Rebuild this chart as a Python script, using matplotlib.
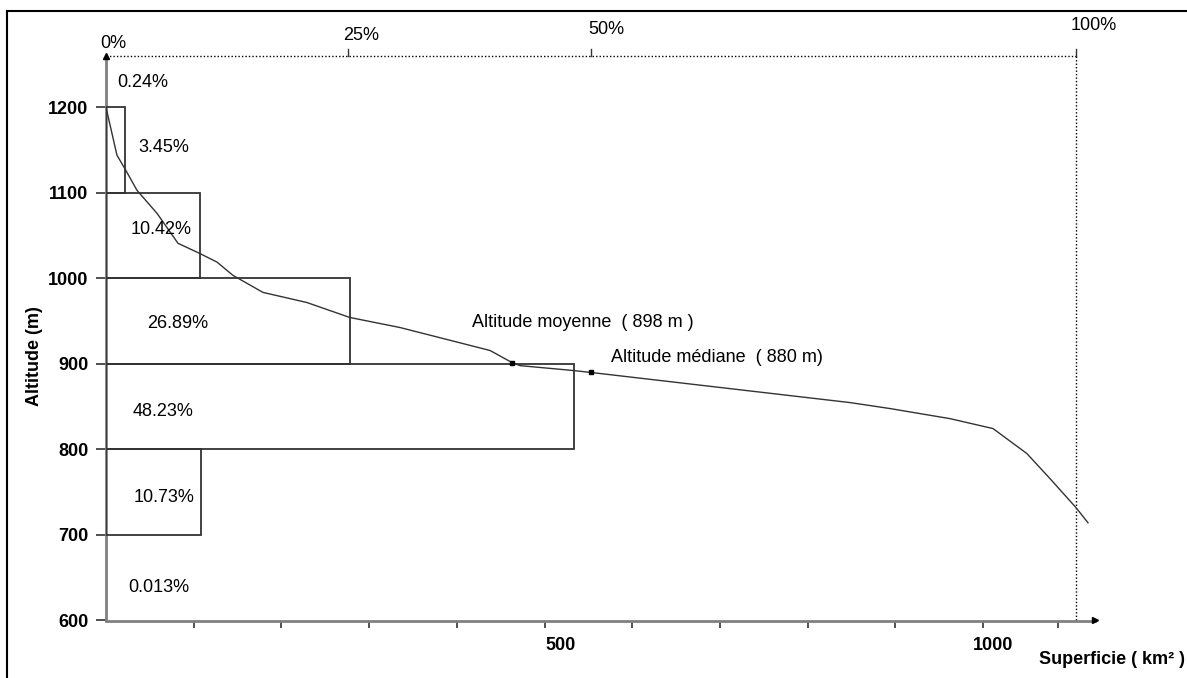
import numpy as np
import matplotlib
matplotlib.use("Agg")
import matplotlib.pyplot as plt
from matplotlib.lines import Line2D
from matplotlib import transforms

plt.rcParams['font.family'] = ['Liberation Sans', 'DejaVu Sans']

# ---------------- data ----------------
# altitude classes (lower bound, m) and surface drawn for each class (km2)
class_low = [1100, 1000, 900, 800, 700]
class_area = [21.7, 107.2, 278.2, 533.6, 108.3]
class_height = 100

# percentage labels of each class (top to bottom)
pct_labels = ["0.24%", "3.45%", "10.42%", "26.89%", "48.23%", "10.73%", "0.013%"]

# hypsometric curve: cumulative surface (km2) vs altitude (m)
curve_area = [0, 12.5, 22.8, 35.3, 58.2, 82.1, 107.2, 126.6, 144.8, 179, 229, 278,
              335, 437.9, 462.9, 472, 532.5, 553, 848.3, 894, 962.4, 1011.4,
              1050, 1076.4, 1106, 1119.7]
curve_alt = [1200, 1144, 1126, 1103, 1076, 1041, 1029, 1019, 1003.5, 983.6, 971.8, 954.3,
             942.6, 915.7, 901.6, 898, 892.3, 890, 854.8, 847.8, 836, 824.4,
             795.2, 765.9, 732, 714.3]

total_area = 1106            # 100 % of the surface
pct_ticks = [0, 25, 50, 100]
pct_tick_labels = ["0%", "25%", "50%", "100%"]

mean_area, mean_label = 462.9, "Altitude moyenne  ( 898 m )"
median_area, median_label = 553, "Altitude médiane  ( 880 m)"

yticks = [600, 700, 800, 900, 1000, 1100, 1200]
xticks = [100, 200, 300, 400, 500, 600, 700, 800, 900, 1000, 1085]
xtick_labels = {500: "500", 1000: "1000"}

# ---------------- layout ----------------
W, H = 1187, 678
FS = 13
line_col = '#333333'
axis_col = '#808080'

fig = plt.figure(figsize=(W / 100, H / 100), dpi=100)
ax = fig.add_axes([106 / W, (H - 620.5) / H, 989 / W, (620.5 - 56) / H])
xmax, ymin, ymax = 1127.7, 600, 1260
ax.set_xlim(0, xmax)
ax.set_ylim(ymin, ymax)

for s in ['top', 'right']:
    ax.spines[s].set_visible(False)
for s in ['left', 'bottom']:
    ax.spines[s].set_color(axis_col)
    ax.spines[s].set_linewidth(2)

# axis arrows
ax.plot([0], [ymax], marker='^', ms=5, color='black', clip_on=False, zorder=5)
ax.plot([xmax], [ymin], marker='>', ms=5, color='black', clip_on=False, zorder=5)

# y ticks
ax.set_yticks(yticks)
ax.set_yticklabels([str(v) for v in yticks], fontweight='bold', fontsize=FS)
ax.tick_params(axis='y', direction='out', length=7.2, width=1.2, color=line_col, pad=5.5)

# x ticks (labels drawn separately, they sit right of their ticks)
ax.set_xticks(xticks)
ax.set_xticklabels([])
ax.tick_params(axis='x', direction='out', length=5, width=1.2, color=line_col)
for v, lab in xtick_labels.items():
    off = transforms.offset_copy(ax.transData, fig=fig, x=(16 if v == 500 else 10),
                                 y=-25, units='dots')
    ax.text(v, ymin, lab, transform=off, ha='center', va='center',
            fontweight='bold', fontsize=FS)

ax.set_ylabel("Altitude (m)", fontweight='bold', fontsize=FS)
ax.yaxis.set_label_coords(-(106 - 43) / 989, (620.5 - 356) / (620.5 - 56))
fig.text(1039 / W, 1 - 660 / H, "Superficie ( km² )", fontweight='bold',
         fontsize=FS, ha='left', va='center')

# class bars
ax.barh(class_low, class_area, height=class_height, left=0, align='edge',
        fill=False, edgecolor=line_col, linewidth=1.3, zorder=3)

# hypsometric curve
ax.plot(curve_area, curve_alt, color=line_col, linewidth=1.0, zorder=4)

# mean / median points
mean_y = np.interp(mean_area, curve_area, curve_alt)
median_y = np.interp(median_area, curve_area, curve_alt)
ax.plot([mean_area, median_area], [mean_y, median_y], 's', ms=2.5, color='black', zorder=5)
ax.annotate(mean_label, (mean_area, mean_y), xytext=(-29, 29),
            textcoords='offset points', ha='left', va='center', fontsize=FS)
ax.annotate(median_label, (median_area, median_y), xytext=(14.5, 11),
            textcoords='offset points', ha='left', va='center', fontsize=FS)

# percentage labels of classes
pct_label_xy = [(12.5, 1229), (36.5, 1153), (28.5, 1057), (46.8, 947),
                (30.8, 844), (32, 744), (25, 638)]
for (x, y), lab in zip(pct_label_xy, pct_labels):
    ax.text(x, y, lab, ha='left', va='center', fontsize=FS, zorder=6)

# top percentage scale (dotted)
ax.plot([0, total_area], [ymax, ymax], linestyle=(0, (1, 1.5)), color='black',
        linewidth=1.0, clip_on=False)
ax.plot([total_area, total_area], [ymin, ymax], linestyle=(0, (1, 1.5)), color='black',
        linewidth=1.0, clip_on=False)
blend = transforms.blended_transform_factory(ax.transData, ax.transAxes)
top_off = [(7, 13), (13, 21), (15, 26), (18, 31)]
for p, lab, (dx, dy) in zip(pct_ticks, pct_tick_labels, top_off):
    xp = p / 100 * total_area
    if p > 0:
        ax.plot([xp, xp], [1.0, 1.0 + 7 / 564.5], color=line_col, linewidth=1.0,
                transform=blend, clip_on=False)
    off = transforms.offset_copy(blend, fig=fig, x=dx, y=dy, units='dots')
    ax.text(xp, 1.0, lab, transform=off, ha='center', va='center', fontsize=FS)

# outer frame
fig.add_artist(Line2D([7 / W, 7 / W], [0, 1 - 11 / H], transform=fig.transFigure,
                      color='black', linewidth=1.5))
fig.add_artist(Line2D([7 / W, 1], [1 - 11 / H, 1 - 11 / H], transform=fig.transFigure,
                      color='black', linewidth=1.5))

fig.savefig("out.png", dpi=100)
